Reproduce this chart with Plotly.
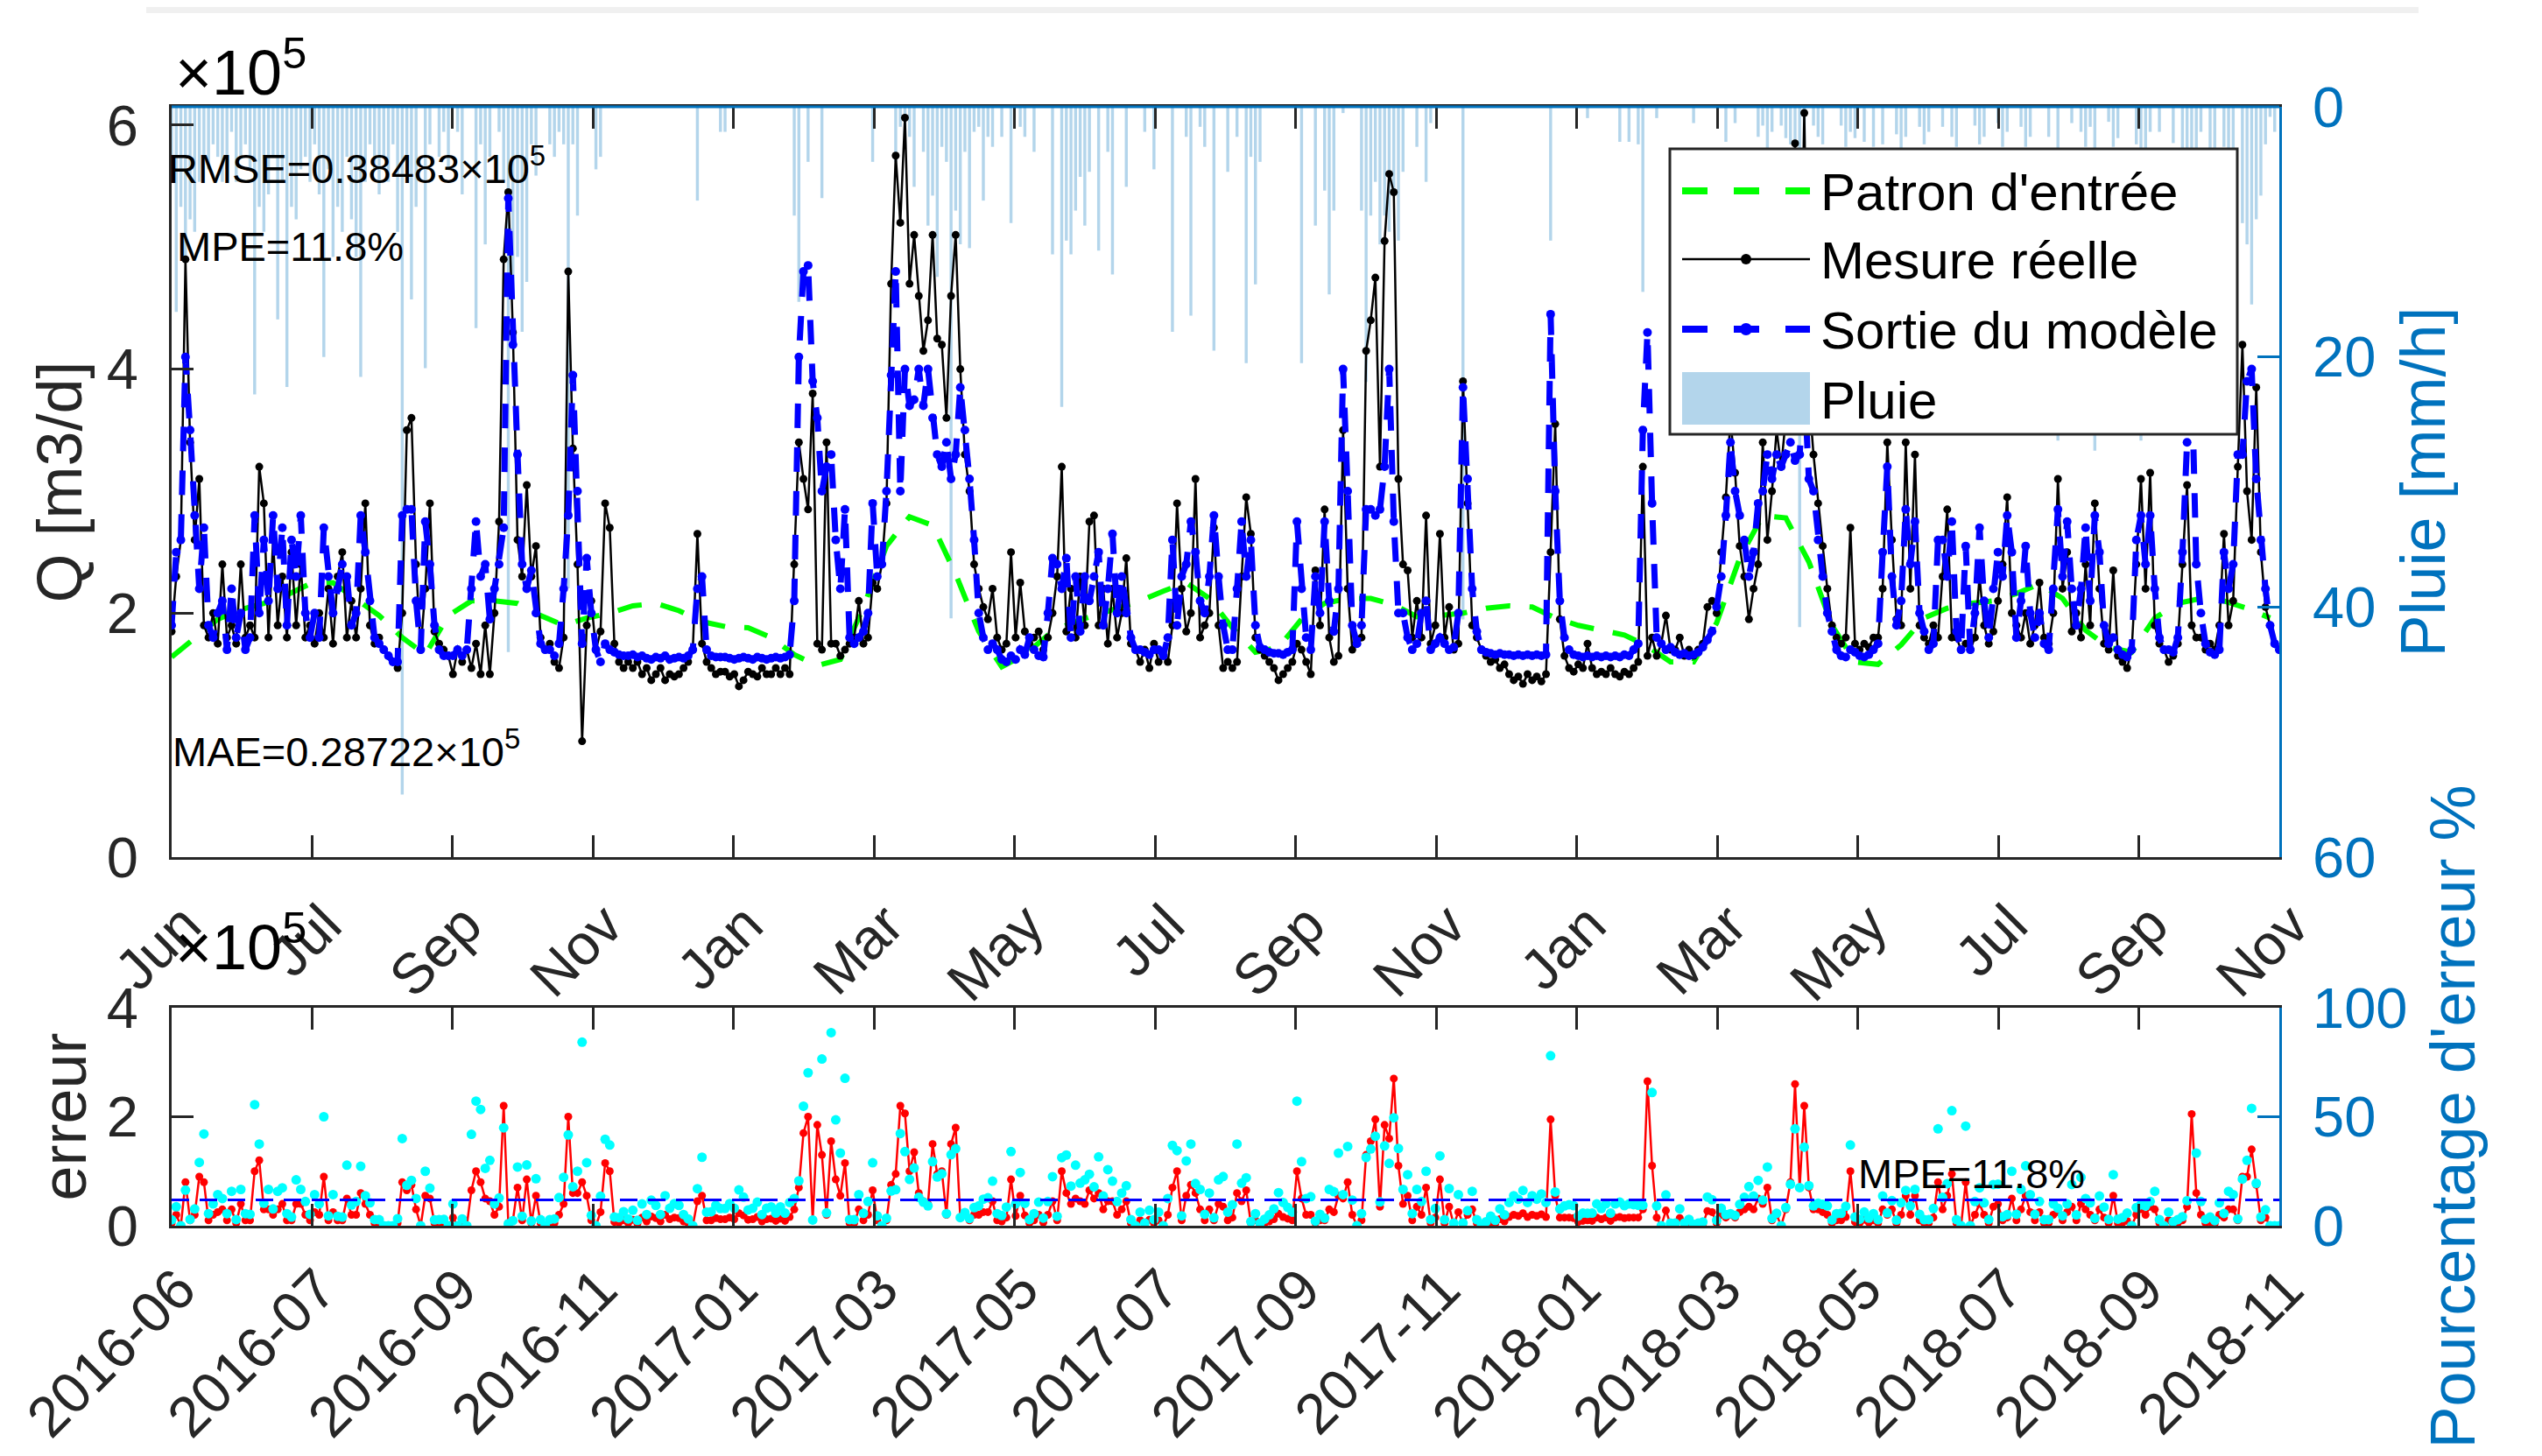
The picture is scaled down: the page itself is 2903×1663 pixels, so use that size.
import numpy as np
import pandas as pd
import plotly.graph_objects as go

START = "2016-05-01"
END = "2018-11-01"

top_tick_labels = ["Jun", "Jul", "Sep", "Nov", "Jan", "Mar", "May", "Jul",
                   "Sep", "Nov", "Jan", "Mar", "May", "Jul", "Sep", "Nov"]
bottom_tick_labels = ["2016-06", "2016-07", "2016-09", "2016-11", "2017-01", "2017-03",
                      "2017-05", "2017-07", "2017-09", "2017-11", "2018-01", "2018-03",
                      "2018-05", "2018-07", "2018-09", "2018-11"]

# Measured flow (x1e5 m3/d), one value every 2 days from 2016-05-01
meas = [
    1.85, 2.3, 2.6, 4.9, 3.4, 2.6, 3.1, 1.9, 1.8, 2.0,
    1.75, 2.4, 1.8, 1.9, 1.75, 2.4, 1.8, 1.9, 1.8, 3.2,
    2.9, 1.8, 2.6, 1.9, 2.3, 1.8, 2.5, 1.9, 2.4, 1.8,
    1.9, 1.75, 2.0, 1.8, 2.2, 1.75, 2.3, 2.5, 1.8, 2.1,
    1.8, 2.2, 2.9, 1.9, 1.75, 1.8, 1.7, 1.65, 1.6, 1.55,
    2.0, 3.5, 3.6, 2.4, 1.7, 2.2, 2.9, 1.85, 1.75, 1.7,
    1.65, 1.5, 1.7, 1.6, 1.7, 1.55, 1.75, 1.5, 1.9, 1.5,
    2.0, 2.75, 4.9, 5.45, 4.3, 2.6, 2.3, 3.05, 2.3, 2.55,
    1.8, 1.7, 1.75, 1.6, 1.55, 1.8, 4.8, 3.35, 2.4, 0.95,
    1.9, 2.1, 1.7, 1.85, 2.9, 2.7, 1.75, 1.6, 1.55, 1.6,
    1.55, 1.6, 1.5, 1.55, 1.45, 1.5, 1.55, 1.45, 1.5, 1.48,
    1.5, 1.55, 1.6, 1.7, 2.65, 1.75, 1.6, 1.55, 1.5, 1.52,
    1.52, 1.48, 1.5, 1.4, 1.45, 1.52, 1.5, 1.48, 1.55, 1.5,
    1.5, 1.55, 1.5, 1.55, 1.5, 2.4, 3.4, 3.1, 2.85, 3.8,
    1.75, 1.7, 3.4, 1.75, 1.75, 1.65, 1.7, 1.75, 1.8, 2.1,
    1.75, 1.8, 2.25, 2.2, 2.4, 2.9, 4.7, 5.75, 5.2, 6.06,
    4.7, 5.1, 4.6, 4.15, 4.4, 5.1, 4.25, 4.2, 3.6, 4.6,
    5.1, 4.0, 3.3, 3.0, 2.4, 2.2, 2.05, 1.95, 2.2, 1.8,
    1.7, 1.75, 2.5, 1.8, 2.25, 1.85, 1.75, 1.8, 1.85, 1.7,
    1.8, 2.0, 2.3, 3.2, 1.85, 2.2, 1.8, 2.3, 1.9, 2.75,
    2.8, 1.9, 2.2, 1.75, 2.2, 1.8, 2.0, 2.45, 1.75, 1.7,
    1.6, 1.7, 1.55, 1.75, 1.6, 1.65, 1.6, 1.9, 2.9, 2.2,
    1.85, 2.0, 3.1, 1.8, 1.9, 2.0, 2.7, 1.9, 1.55, 1.6,
    1.55, 1.6, 2.3, 2.95, 2.65, 1.8, 1.7, 1.65, 1.6, 1.55,
    1.45, 1.5, 1.55, 1.6, 1.75, 1.7, 1.6, 1.5, 2.35, 1.9,
    2.85, 1.8, 1.6, 1.65, 3.5, 2.2, 1.7, 1.75, 1.8, 4.15,
    4.4, 4.75, 3.2, 5.05, 5.6, 5.45, 3.1, 2.4, 2.35, 1.8,
    2.1, 1.8, 2.8, 1.75, 1.9, 2.65, 1.8, 2.05, 1.7, 1.75,
    3.9, 2.9, 1.9, 1.8, 1.7, 1.65, 1.6, 1.62, 1.55, 1.58,
    1.5, 1.45, 1.48, 1.42, 1.5, 1.45, 1.48, 1.44, 1.5, 2.5,
    3.55, 1.95, 1.65, 1.55, 1.52, 1.58, 1.55, 1.75, 1.55, 1.5,
    1.52, 1.5, 1.55, 1.5, 1.48, 1.52, 1.5, 1.55, 1.6, 3.2,
    1.65, 1.8, 1.65, 1.75, 1.98, 1.7, 1.7, 1.8, 1.65, 1.7,
    1.65, 1.7, 1.75, 2.05, 2.1, 2.0, 2.5, 2.95, 3.6, 3.15,
    2.55, 2.3, 1.95, 2.2, 2.4, 3.4, 2.6, 3.0, 3.5, 3.2,
    3.6, 4.2, 5.85, 4.0, 6.1, 3.8, 3.3, 2.9, 2.55, 2.2,
    1.9, 1.8, 1.75, 1.8, 2.7, 1.75, 1.7, 1.75, 1.72, 1.8,
    1.8, 2.2, 3.4, 2.6, 1.95, 1.9, 3.4, 2.2, 3.3, 1.9,
    1.8, 1.75, 1.9, 1.8, 2.3, 2.85, 1.8, 1.8, 1.7, 1.75,
    1.7, 1.8, 2.3, 1.9, 1.75, 1.85, 2.1, 2.4, 2.95, 2.0,
    1.9, 1.8, 2.0, 1.75, 1.9, 2.25, 1.8, 1.75, 2.0, 3.1,
    2.2, 2.5, 1.85, 2.0, 1.8, 2.4, 1.9, 2.9, 2.2, 1.75,
    1.7, 2.35, 1.65, 1.6, 1.55, 1.7, 2.4, 3.1, 2.2, 3.15,
    1.9, 1.75, 1.7, 1.6, 1.65, 1.75, 2.4, 3.05, 1.9, 1.8,
    1.8, 1.7, 1.75, 1.7, 1.9, 2.65, 1.9, 2.1, 3.2, 4.2,
    3.0, 2.6, 3.85, 2.5, 2.05, 1.9, 1.75, 1.7,
]

# Model output (x1e5 m3/d), same 2-day grid
model = [
    1.9, 2.5, 2.6, 4.1, 3.5, 2.8, 2.2, 2.7, 1.9, 1.8,
    2.0, 2.1, 1.7, 2.2, 1.8, 2.0, 1.7, 1.8, 2.8, 2.0,
    2.6, 2.1, 2.8, 2.2, 2.7, 1.9, 2.6, 2.3, 2.8, 2.0,
    1.8, 2.0, 1.8, 2.7, 2.3, 2.0, 2.2, 2.4, 2.3, 1.9,
    2.0, 2.8, 2.5, 2.1, 1.8, 1.75, 1.7, 1.65, 1.6, 1.6,
    2.8, 2.85, 2.85, 2.1, 1.7, 2.75, 2.4, 1.9, 1.7, 1.65,
    1.65, 1.65, 1.7, 1.65, 1.7, 2.2, 2.75, 2.3, 2.4, 1.95,
    2.2, 2.4, 2.7, 5.4, 4.2, 3.3, 2.4, 2.2, 2.35, 2.0,
    1.75, 1.7, 1.7, 1.65, 1.75, 2.2, 2.8, 3.95, 3.0, 1.75,
    2.45, 2.0, 1.7, 1.6, 1.75, 1.7, 1.68, 1.66, 1.65, 1.65,
    1.66, 1.64, 1.65, 1.63, 1.62, 1.64, 1.63, 1.65, 1.62, 1.63,
    1.64, 1.63, 1.65, 1.7, 2.2, 2.3, 1.7, 1.65, 1.64, 1.64,
    1.64, 1.63, 1.62, 1.63, 1.64, 1.63, 1.62, 1.64, 1.63, 1.62,
    1.63, 1.64, 1.63, 1.64, 1.66, 2.1, 4.1, 4.8, 4.85, 3.9,
    3.6, 3.0, 3.2, 3.3, 2.6, 2.2, 2.85, 1.8, 1.75, 1.8,
    1.85, 2.0, 2.9, 2.3, 2.4, 3.0, 3.95, 4.8, 3.0, 4.0,
    3.7, 3.75, 4.0, 3.7, 4.0, 3.6, 3.3, 3.2, 3.4, 3.1,
    3.3, 3.85, 3.5, 3.1, 2.6, 2.0, 1.8, 1.7, 1.75, 1.7,
    1.62, 1.6, 1.65, 1.62, 1.7, 1.66, 1.8, 1.7, 1.65, 1.64,
    2.0, 2.45, 2.4, 2.2, 2.45, 1.8, 2.3, 1.85, 2.3, 2.1,
    2.3, 2.5, 1.9, 2.2, 2.65, 2.0, 2.3, 2.0, 1.8, 1.7,
    1.7, 1.68, 1.66, 1.7, 1.7, 1.65, 1.8, 2.6, 1.9, 2.3,
    2.4, 2.75, 2.5, 2.1, 2.0, 2.3, 2.8, 2.3, 1.9, 1.7,
    1.7, 2.2, 2.75, 2.3, 2.6, 1.9, 1.72, 1.7, 1.68, 1.67,
    1.67, 1.66, 1.68, 1.7, 2.75, 2.2, 1.8, 1.7, 2.3, 2.0,
    2.75, 2.1, 1.85, 2.2, 4.0, 3.0, 1.9, 1.75, 1.9, 2.85,
    2.85, 2.8, 2.85, 3.2, 4.0, 2.75, 2.0, 2.0, 1.8, 1.7,
    1.75, 2.0, 2.1, 1.7, 1.75, 1.8, 1.75, 1.7, 1.72, 2.0,
    3.85, 3.1, 2.2, 1.85, 1.7, 1.68, 1.67, 1.66, 1.67, 1.66,
    1.66, 1.65, 1.66, 1.65, 1.66, 1.65, 1.66, 1.65, 1.66, 4.45,
    3.0, 2.1, 1.8, 1.7, 1.66, 1.65, 1.64, 1.65, 1.64, 1.65,
    1.64, 1.65, 1.64, 1.65, 1.64, 1.66, 1.65, 1.7, 1.75, 3.5,
    4.3, 2.9, 1.8, 1.75, 1.7, 1.72, 1.68, 1.66, 1.67, 1.65,
    1.66, 1.68, 1.72, 1.78, 1.85, 2.05, 2.3, 2.8, 3.4, 3.0,
    2.8, 2.6, 2.3, 2.5, 2.9, 3.0, 3.3, 3.1, 3.3, 3.2,
    3.3, 3.4, 3.25, 3.3, 3.9, 3.1, 3.0, 2.6, 2.3, 2.0,
    1.85, 1.7, 1.65, 1.64, 1.7, 1.68, 1.65, 1.64, 1.66, 1.7,
    1.75, 2.5, 3.2, 2.3, 1.9, 2.1, 2.85, 2.4, 2.75, 2.0,
    1.85, 1.7, 1.75, 2.6, 2.6, 2.3, 2.75, 1.85, 1.7, 2.55,
    1.7, 2.0, 2.7, 2.1, 1.8, 2.2, 2.5, 2.3, 2.8, 2.5,
    1.8, 2.1, 2.55, 2.0, 1.8, 2.0, 1.75, 1.7, 2.2, 2.85,
    2.3, 2.75, 2.2, 1.9, 2.2, 2.7, 2.1, 2.8, 2.5, 1.9,
    1.75, 1.8, 1.7, 1.66, 1.64, 1.7, 2.6, 2.8, 2.4, 2.8,
    2.2, 1.8, 1.7, 1.7, 1.68, 1.8, 2.5, 3.4, 3.95, 2.4,
    2.0, 1.75, 1.68, 1.66, 1.7, 2.5, 2.2, 2.4, 3.3, 3.3,
    3.9, 4.0, 3.1, 2.6, 2.2, 1.9, 1.75, 1.7,
]

# Rainfall (mm/h), same 2-day grid
rain = [
    5, 16.4, 8, 12, 9, 10, 6, 4, 5, 3,
    4, 6, 5, 2, 6, 4, 3, 5, 23, 8,
    10, 7, 4, 17, 6, 22.4, 8, 9, 5, 4,
    6, 3, 7, 20, 5, 12, 8, 10, 4, 9,
    12, 21.6, 6, 3, 5, 7, 4, 6, 3, 10,
    55, 4, 15.4, 8, 0, 20.9, 3, 0, 4, 2,
    5, 0, 2, 7, 0, 0, 17.7, 3, 11, 4,
    0, 2, 6, 43.6, 15, 12, 18, 14, 3, 5.5,
    0, 0, 3, 4, 2, 3, 38.5, 3, 8.7, 0,
    0, 0, 5, 4, 0, 0, 0, 0, 0, 0,
    0, 0, 0, 0, 0, 0, 0, 0, 0, 0,
    0, 0, 0, 0, 7.5, 0, 0, 0, 0, 2,
    2, 0, 0, 0, 0, 0, 0, 0, 0, 0,
    0, 0, 0, 0, 0, 8.7, 15.6, 0, 4.4, 0,
    0, 7.3, 0, 0, 0, 0, 0, 0, 0, 0,
    0, 0, 4.4, 0, 0, 0, 0, 4.4, 1.6, 3.2,
    2.4, 6.4, 0, 3.6, 9.5, 7.1, 13.6, 3.2, 4.4, 40.9,
    8.3, 11, 3.6, 11.3, 2, 1.6, 7.5, 2.4, 3.2, 0,
    2.4, 0, 9.3, 0, 1.6, 2.4, 0, 3.6, 0, 0,
    0, 11.8, 0, 24, 10.7, 11.8, 8.3, 5.6, 9.5, 5.2,
    0, 11.5, 0, 3.6, 13.4, 0, 0, 6.4, 0, 0,
    0, 2, 0, 5, 0, 0, 0, 18, 0, 0,
    2.4, 16.7, 0, 1.6, 3.2, 0, 19.5, 0, 0, 5.2,
    0, 2.4, 0, 20.5, 4, 14.2, 4.4, 0, 0, 0,
    0, 0, 0, 0, 0, 20.5, 0, 0, 9.5, 0,
    6.7, 15, 8.3, 0, 0.5, 0, 0, 0, 8.3, 22,
    8.7, 6, 11, 8.7, 10, 7.1, 10.7, 5.2, 0, 0,
    3.2, 0, 6, 1.3, 0, 0, 0, 0, 0, 0,
    41, 0, 0, 0, 0, 0, 0, 0, 0, 0,
    0, 0, 0, 0, 0, 0, 0, 0, 0, 10.7,
    0, 0, 0, 0, 0, 0, 0, 0.9, 0, 0,
    0, 0, 0, 0, 2.8, 0, 2.8, 0, 3, 14.8,
    0, 0, 0.9, 0, 0, 0, 0, 0, 0, 0,
    1.3, 0, 0, 0, 0, 0, 0, 2.8, 0, 1.3,
    0, 0, 0, 0, 2.4, 1.5, 5.2, 2, 0, 1.5,
    2.5, 3, 3.2, 41.6, 3, 0, 1.5, 2.4, 3, 0,
    0, 0, 1.5, 3.2, 2, 2.5, 0, 2.8, 0, 3.2,
    0, 3, 0, 0, 2.2, 3.6, 2.4, 0, 0, 1.6,
    3, 2, 0, 0, 1.6, 0, 2.4, 3.2, 0, 0,
    0, 1.5, 3, 2.4, 0, 0, 1.3, 3.2, 2, 0,
    0, 1.6, 3.2, 2.4, 0, 0, 0, 2.4, 0, 26.7,
    0, 0, 1.3, 0, 2, 3.2, 1.6, 27.5, 0, 0,
    1.2, 3.2, 2.5, 0, 0, 0, 3, 26.7, 5, 2,
    0, 2, 0, 0, 2.9, 0, 8.2, 14.6, 5.7, 5,
    2, 0, 3.6, 4.4, 0, 3.2, 7.1, 5, 0, 9.3,
    11, 15.8, 9, 7.1, 3, 0.8, 2, 0,
]

# Input pattern (x1e5 m3/d), one value every 10 days from 2016-05-01
pattern = [
    1.64, 1.80, 1.95, 2.03, 2.08, 2.15, 2.24, 2.25, 2.12, 1.98,
    1.80, 1.66, 1.98, 2.10, 2.10, 2.08, 1.98, 1.90, 1.96, 2.00,
    2.06, 2.08, 2.02, 1.93, 1.89, 1.88, 1.80, 1.66, 1.57, 1.62,
    2.05, 2.55, 2.79, 2.72, 2.32, 1.85, 1.56, 1.66, 1.82, 1.92,
    1.98, 2.04, 2.10, 2.18, 2.25, 2.12, 1.88, 1.68, 1.72, 1.95,
    2.08, 2.12, 2.12, 2.07, 1.97, 1.98, 2.00, 2.04, 2.06, 2.05,
    1.96, 1.90, 1.86, 1.82, 1.73, 1.60, 1.60, 1.92, 2.45, 2.80,
    2.78, 2.42, 1.90, 1.60, 1.58, 1.74, 1.96, 2.04, 2.08, 2.10,
    2.16, 2.24, 2.12, 1.86, 1.72, 1.68, 1.96, 2.08, 2.12, 2.10,
    2.04, 1.96,
]

series_names = ["Patron d'entrée", "Mesure réelle", "Sortie du modèle", "Pluie"]
RMSE_TXT = "0.38483"
MAE_TXT = "0.28722"
MPE = 11.8

assert len(meas) == len(model) == len(rain)

dates = pd.date_range(START, periods=len(meas), freq="2D")
pattern_dates = pd.date_range(START, periods=len(pattern), freq="10D")
tick_dates = pd.date_range(START, END, periods=len(top_tick_labels))

meas_a = np.array(meas)
model_a = np.array(model)
err = np.abs(meas_a - model_a)
pct = err / meas_a * 100

# page body has an 8px margin: lay the figure out in window pixels shifted by it
OFF = 8
W, H = 2903 - 2 * OFF, 1663 - 2 * OFF


def PX(x):
    return (x - OFF) / W


def PY(y):
    return 1 - (y - OFF) / H


FONT = "Liberation Sans, Arial, Helvetica, sans-serif"
DARK = "#262626"
AXBLUE = "rgb(0,114,189)"
RAINC = "rgb(179,213,235)"
GREEN = "rgb(0,255,0)"
BLUE = "rgb(0,0,255)"
XD = [PX(196), PX(2603)]
YTOP = [PY(979), PY(122)]
YBOT = [PY(1400), PY(1151)]
TICKF = 65
TITLEF = 72
DASH = "28px,22px"

fig = go.Figure()
fig.add_trace(go.Bar(
    x=dates, y=rain, name=series_names[3],
    marker=dict(color=RAINC, line=dict(width=0)),
    width=1.3 * 86400000, xaxis="x", yaxis="y"))
fig.add_trace(go.Scatter(
    x=pattern_dates, y=pattern, name=series_names[0], mode="lines",
    line=dict(color=GREEN, width=6, dash=DASH), xaxis="x", yaxis="y2"))
fig.add_trace(go.Scatter(
    x=dates, y=meas, name=series_names[1], mode="lines+markers",
    line=dict(color="black", width=2.5), marker=dict(size=9, color="black"),
    xaxis="x", yaxis="y2"))
fig.add_trace(go.Scatter(
    x=dates, y=model, name=series_names[2], mode="lines+markers",
    line=dict(color=BLUE, width=7, dash=DASH), marker=dict(size=10, color=BLUE),
    xaxis="x", yaxis="y2"))

fig.add_trace(go.Scatter(
    x=dates, y=err, mode="lines+markers",
    line=dict(color="rgb(255,0,0)", width=2.5), marker=dict(size=9, color="rgb(255,0,0)"),
    xaxis="x2", yaxis="y3"))
fig.add_trace(go.Scatter(
    x=dates, y=pct, mode="markers",
    marker=dict(size=11, color="rgb(0,255,255)"), xaxis="x2", yaxis="y4"))
fig.add_trace(go.Scatter(
    x=[START, END], y=[MPE, MPE], mode="lines",
    line=dict(color=BLUE, width=3, dash="20px,12px"), xaxis="x2", yaxis="y4"))


def xaxis_cfg(anchor, labels, standoff, shift):
    return dict(domain=XD, anchor=anchor, type="date", range=[START, END],
                tickmode="array", tickvals=tick_dates, ticktext=labels,
                tickangle=-45, ticks="inside", ticklen=25, tickwidth=3,
                tickcolor=DARK, showline=True, linecolor=DARK, linewidth=3,
                mirror="ticks", showgrid=False, zeroline=False,
                ticklabelstandoff=standoff, ticklabelshift=shift, automargin=False,
                tickfont=dict(size=TICKF, color=DARK, family=FONT))


def yaxis_cfg(color, side, rng, vals, title, standoff, **kw):
    d = dict(side=side, range=rng, tickmode="array", tickvals=vals,
             ticks="inside", ticklen=25, tickwidth=3, tickcolor=color,
             showline=True, linecolor=color, linewidth=3, showgrid=False,
             zeroline=False, ticklabelstandoff=22, automargin=False,
             tickfont=dict(size=TICKF, color=color, family=FONT),
             title=dict(text=title, standoff=standoff,
                        font=dict(size=TITLEF, color=color, family=FONT)))
    d.update(kw)
    return d


# legend box drawn in figure pixels (reference positions)
LB = dict(x0=1907, x1=2555, y0=170, y1=496)
ROWS = [218, 296, 376, 455]
SX0, SX1, SXC = 1921, 2067, 1994
TX = 2077

shapes = [
    dict(type="line", xref="paper", yref="paper", x0=XD[0], x1=XD[1],
         y0=YTOP[1], y1=YTOP[1], line=dict(color=AXBLUE, width=3), layer="above"),
    dict(type="rect", xref="paper", yref="paper", x0=PX(167), x1=PX(2762),
         y0=PY(15), y1=1.0, fillcolor="#f0f0f0", line=dict(width=0), layer="below"),
    dict(type="rect", xref="paper", yref="paper", x0=PX(LB["x0"]), x1=PX(LB["x1"]),
         y0=PY(LB["y1"]), y1=PY(LB["y0"]), fillcolor="white",
         line=dict(color=DARK, width=3), layer="above"),
    dict(type="line", xref="paper", yref="paper", x0=PX(SX0), x1=PX(SX1),
         y0=PY(ROWS[0]), y1=PY(ROWS[0]), line=dict(color=GREEN, width=8, dash="29px,30px"),
         layer="above"),
    dict(type="line", xref="paper", yref="paper", x0=PX(SX0), x1=PX(SX1),
         y0=PY(ROWS[1]), y1=PY(ROWS[1]), line=dict(color="black", width=2.5), layer="above"),
    dict(type="circle", xref="paper", yref="paper", xsizemode="pixel", ysizemode="pixel",
         xanchor=PX(SXC), yanchor=PY(ROWS[1]), x0=-6, x1=6, y0=-6, y1=6,
         fillcolor="black", line=dict(width=0), layer="above"),
    dict(type="line", xref="paper", yref="paper", x0=PX(SX0), x1=PX(SX1),
         y0=PY(ROWS[2]), y1=PY(ROWS[2]), line=dict(color=BLUE, width=8, dash="29px,30px"),
         layer="above"),
    dict(type="circle", xref="paper", yref="paper", xsizemode="pixel", ysizemode="pixel",
         xanchor=PX(SXC), yanchor=PY(ROWS[2]), x0=-7, x1=7, y0=-7, y1=7,
         fillcolor=BLUE, line=dict(width=0), layer="above"),
    dict(type="rect", xref="paper", yref="paper", x0=PX(SX0), x1=PX(SX1),
         y0=PY(ROWS[3] + 30), y1=PY(ROWS[3] - 30), fillcolor=RAINC,
         line=dict(width=0), layer="above"),
]

fig.update_layout(
    width=W, height=H, autosize=False,
    margin=dict(l=0, r=0, t=0, b=0, pad=0, autoexpand=False),
    paper_bgcolor="white", plot_bgcolor="white",
    font=dict(family=FONT, color=DARK),
    showlegend=False,
    xaxis=xaxis_cfg("y", top_tick_labels, 10, 14),
    xaxis2=xaxis_cfg("y3", bottom_tick_labels, 5, 8),
    yaxis=yaxis_cfg(AXBLUE, "right", [60, 0], [0, 20, 40, 60], "Pluie [mm/h]", 30,
                    domain=YTOP, anchor="x"),
    yaxis2=yaxis_cfg(DARK, "left", [0, 6.15], [0, 2, 4, 6], "Q [m3/d]", 5,
                     overlaying="y", anchor="x"),
    yaxis3=yaxis_cfg(DARK, "left", [0, 4], [0, 2, 4], "erreur", 0,
                     domain=YBOT, anchor="x2"),
    yaxis4=yaxis_cfg(AXBLUE, "right", [0, 100], [0, 50, 100], "Pourcentage d'erreur %", 28,
                     overlaying="y3", anchor="x2"),
    shapes=shapes,
)

ann_font = dict(size=47, family=FONT, color="black")
big_font = dict(size=72, family=FONT, color="black")
leg_font = dict(size=60, family=FONT, color="black")
annotations = [
    dict(text="×10<sup>5</sup>", x=PX(198), y=PY(125), xanchor="left", yanchor="bottom",
         font=big_font),
    dict(text="×10<sup>5</sup>", x=PX(198), y=PY(1124), xanchor="left", yanchor="bottom",
         font=big_font),
    dict(text=f"RMSE={RMSE_TXT}×10<sup>5</sup>", x=PX(190), y=PY(189),
         xanchor="left", yanchor="middle", font=ann_font),
    dict(text=f"MPE={MPE}%", x=PX(200), y=PY(282), xanchor="left", yanchor="middle",
         font=ann_font),
    dict(text=f"MAE={MAE_TXT}×10<sup>5</sup>", x=PX(195), y=PY(855),
         xanchor="left", yanchor="middle", font=ann_font),
    dict(text=f"MPE={MPE}%", x=PX(2120), y=PY(1340), xanchor="left", yanchor="middle",
         font=ann_font),
]
for name, row in zip(series_names, ROWS):
    annotations.append(dict(text=name, x=PX(TX), y=PY(row + 2), xanchor="left",
                            yanchor="middle", font=leg_font))
for a in annotations:
    a.update(xref="paper", yref="paper", showarrow=False)
fig.update_layout(annotations=annotations)

fig.write_html("out.html")
